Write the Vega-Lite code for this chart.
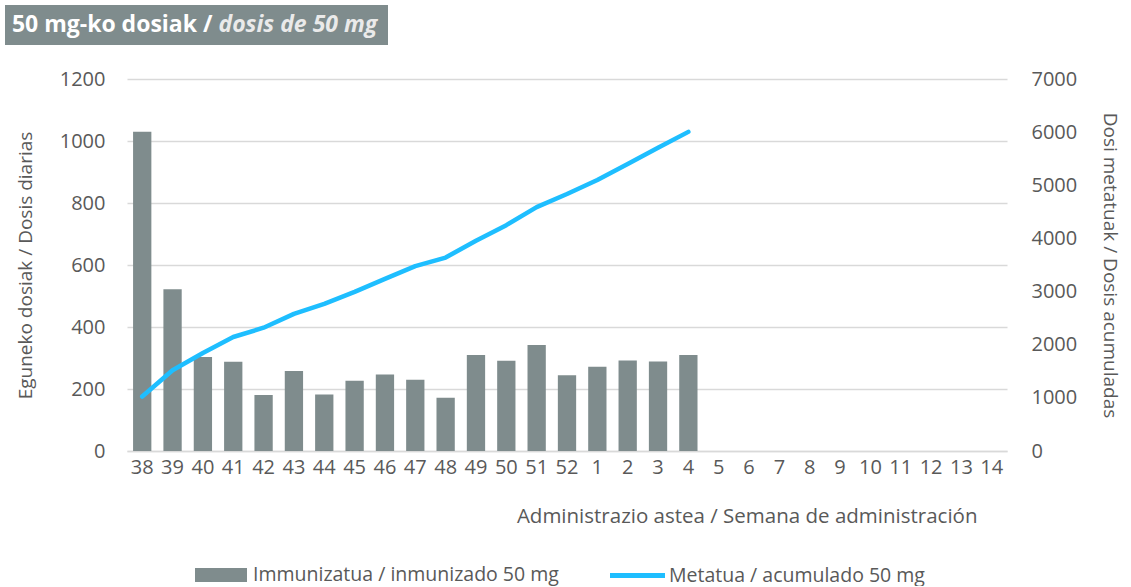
{
  "$schema": "https://vega.github.io/schema/vega-lite/v6.json",
  "padding": {"left": 5, "top": 5, "right": 0, "bottom": 0},
  "background": "white",
  "config": {"font": "Open Sans", "view": {"stroke": null}},
  "spacing": 24,
  "vconcat": [
    {
      "width": 383,
      "height": 40,
      "view": {"fill": "#7f8c8d", "stroke": null},
      "data": {"values": [{"a": "50 mg-ko dosiak /", "b": "dosis de 50 mg"}]},
      "layer": [
        {"mark": {"type": "text", "align": "right", "dx": 16, "font": "Open Sans", "fontSize": 23, "fontWeight": "bold", "color": "#ffffff"}, "encoding": {"text": {"field": "a"}}},
        {"mark": {"type": "text", "align": "left", "dx": 22, "font": "Open Sans", "fontSize": 23, "fontWeight": "bold", "fontStyle": "italic", "color": "#eaeaea"}, "encoding": {"text": {"field": "b"}}}
      ]
    },
    {
      "spacing": 0,
      "hconcat": [
        {
          "width": 11,
          "height": 1,
          "data": {"values": []},
          "mark": {"type": "point", "opacity": 0},
          "encoding": {}
        },
        {
          "width": 880,
          "height": 372,
          "data": {"values": [
            {"week": "38", "daily": 1030, "cum": 1025},
            {"week": "39", "daily": 522, "cum": 1520},
            {"week": "40", "daily": 303, "cum": 1845},
            {"week": "41", "daily": 288, "cum": 2145},
            {"week": "42", "daily": 181, "cum": 2320},
            {"week": "43", "daily": 258, "cum": 2580},
            {"week": "44", "daily": 182, "cum": 2770},
            {"week": "45", "daily": 227, "cum": 2995},
            {"week": "46", "daily": 247, "cum": 3240},
            {"week": "47", "daily": 230, "cum": 3480},
            {"week": "48", "daily": 172, "cum": 3640},
            {"week": "49", "daily": 310, "cum": 3955},
            {"week": "50", "daily": 291, "cum": 4250},
            {"week": "51", "daily": 342, "cum": 4590},
            {"week": "52", "daily": 244, "cum": 4835},
            {"week": "1", "daily": 272, "cum": 5100},
            {"week": "2", "daily": 292, "cum": 5400},
            {"week": "3", "daily": 289, "cum": 5705},
            {"week": "4", "daily": 310, "cum": 6005},
            {"week": "5"}, {"week": "6"}, {"week": "7"}, {"week": "8"}, {"week": "9"},
            {"week": "10"}, {"week": "11"}, {"week": "12"}, {"week": "13"}, {"week": "14"}
          ]},
          "encoding": {
            "x": {
              "field": "week", "type": "nominal", "sort": null,
              "scale": {"domain": ["38","39","40","41","42","43","44","45","46","47","48","49","50","51","52","1","2","3","4","5","6","7","8","9","10","11","12","13","14"], "paddingInner": 0.397, "paddingOuter": 0.2},
              "axis": {
                "labelAngle": 0, "labelFontSize": 20, "labelColor": "#595959", "labelPadding": 6,
                "ticks": false, "domainColor": "#d9d9d9", "domainWidth": 1.5,
                "title": "Administrazio astea / Semana de administración",
                "titleFontSize": 20.5, "titleFontWeight": "normal", "titleColor": "#595959",
                "titleAnchor": "end", "titleAlign": "right", "titleX": 850, "titlePadding": 29
              }
            }
          },
          "layer": [
            {
              "mark": {"type": "bar"},
              "encoding": {
                "y": {
                  "field": "daily", "type": "quantitative",
                  "scale": {"domain": [0, 1200]},
                  "axis": {
                    "values": [0, 200, 400, 600, 800, 1000, 1200], "format": "d",
                    "grid": true, "gridColor": "#d9d9d9", "gridWidth": 1.5,
                    "domain": false, "ticks": false,
                    "labelFontSize": 20, "labelColor": "#595959", "labelPadding": 22,
                    "title": "Eguneko dosiak / Dosis diarias",
                    "titleFontSize": 19, "titleFontWeight": "normal", "titleColor": "#595959", "titlePadding": 24
                  }
                },
                "fill": {
                  "datum": "Immunizatua / inmunizado 50 mg",
                  "scale": {"range": ["#7f8c8d"]},
                  "legend": {
                    "orient": "none", "legendX": 203, "legendY": 557, "direction": "horizontal",
                    "title": null,
                    "symbolType": "M-2,-0.54H2V0.54H-2Z", "symbolSize": 676, "symbolStrokeWidth": 0,
                    "labelFontSize": 19.5, "labelColor": "#595959", "labelOffset": 19, "labelLimit": 500
                  }
                }
              }
            },
            {
              "mark": {"type": "line", "strokeWidth": 4.5, "strokeCap": "round", "strokeJoin": "round"},
              "encoding": {
                "y": {
                  "field": "cum", "type": "quantitative",
                  "scale": {"domain": [0, 7000]},
                  "axis": {
                    "orient": "right",
                    "values": [0, 1000, 2000, 3000, 4000, 5000, 6000, 7000], "format": "d",
                    "grid": false, "domain": false, "ticks": false,
                    "labelFontSize": 20, "labelColor": "#595959", "labelPadding": 24,
                    "title": "Dosi metatuak / Dosis acumuladas",
                    "titleFontSize": 19, "titleFontWeight": "normal", "titleColor": "#595959", "titlePadding": 23
                  }
                },
                "stroke": {
                  "datum": "Metatua / acumulado 50 mg",
                  "scale": {"range": ["#1ebeff"]},
                  "legend": {
                    "orient": "none", "legendX": 616, "legendY": 554, "direction": "horizontal",
                    "title": null,
                    "symbolType": "M-2,0H2", "symbolSize": 756, "symbolStrokeWidth": 5, "symbolFillColor": "transparent",
                    "labelFontSize": 19.5, "labelColor": "#595959", "labelOffset": 15, "labelLimit": 500
                  }
                }
              }
            }
          ],
          "resolve": {"scale": {"y": "independent"}}
        }
      ]
    }
  ]
}
